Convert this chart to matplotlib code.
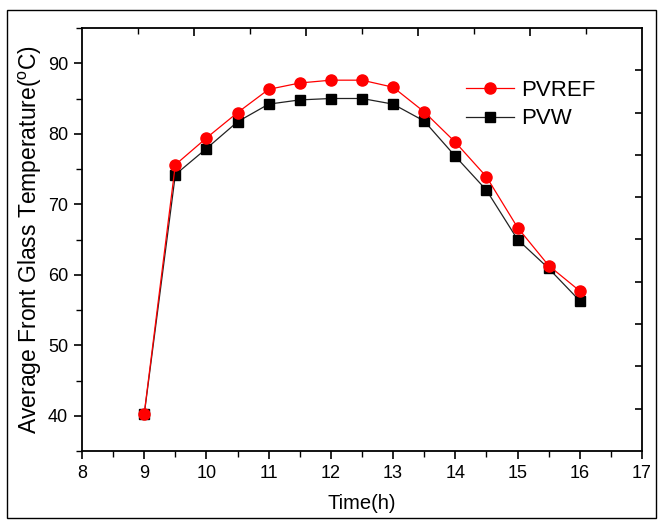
import matplotlib
matplotlib.use("Agg")
import matplotlib.pyplot as plt
from matplotlib.patches import Rectangle
from matplotlib.ticker import MultipleLocator

plt.rcParams['font.family'] = ['Liberation Sans', 'DejaVu Sans']
plt.rcParams['mathtext.fontset'] = 'custom'
plt.rcParams['mathtext.rm'] = 'Liberation Sans'

time_h = [9, 9.5, 10, 10.5, 11, 11.5, 12, 12.5, 13, 13.5, 14, 14.5, 15, 15.5, 16]
pvref = [40.3, 75.6, 79.4, 83.0, 86.3, 87.2, 87.6, 87.6, 86.6, 83.1, 78.8, 73.9, 66.7, 61.3, 57.7]
pvw = [40.2, 74.2, 77.9, 81.7, 84.2, 84.8, 85.0, 85.0, 84.2, 81.8, 76.8, 72.0, 65.0, 60.9, 56.3]

x_ticks = [8, 9, 10, 11, 12, 13, 14, 15, 16, 17]
y_ticks = [40, 50, 60, 70, 80, 90]

fig = plt.figure(figsize=(6.61, 5.24), dpi=100)
fig.patch.set_facecolor('white')
pos = [82/661, 1-451/524, (642-82)/661, (451-28)/524]
ax = fig.add_axes(pos)

ax.plot(time_h, pvref, color='red', lw=0.9, marker='o', markersize=8,
        markerfacecolor='red', markeredgecolor='red', label='PVREF', zorder=3)
ax.plot(time_h, pvw, color='#222222', lw=0.9, marker='s', markersize=6.5,
        markerfacecolor='black', markeredgecolor='black', label='PVW', zorder=2)

ax.set_xlim(8, 17)
ax.set_ylim(35, 95)
ax.set_xticks(x_ticks)
ax.set_yticks(y_ticks)
ax.xaxis.set_minor_locator(MultipleLocator(0.5))
ax.yaxis.set_minor_locator(MultipleLocator(5))
ax.tick_params(which='major', direction='out', length=6, width=1.2, labelsize=13, pad=4)
ax.tick_params(which='minor', direction='out', length=4, width=1.0)
for s in ax.spines.values():
    s.set_linewidth(1.3)

ax.set_xlabel('Time(h)', fontsize=14.5, labelpad=9)
ax.set_ylabel(r'Average Front Glass Temperature($^{\mathregular{o}}$C)', fontsize=16.5, labelpad=3)

leg = ax.legend(loc='upper left', bbox_to_anchor=(0.685, 0.878), frameon=False,
                fontsize=16, handlelength=2.2, handletextpad=0.3, labelspacing=0.35,
                borderpad=0, borderaxespad=0)

# opposite-axis ticks (inward)
axo = fig.add_axes(pos, frameon=False)
axo.set_xlim(0, 10)
axo.set_ylim(0, 10)
axo.patch.set_visible(False)
axo.xaxis.tick_top()
axo.yaxis.tick_right()
axo.set_xticks([2, 4, 6, 8])
axo.set_xticks([1, 3, 5, 7, 9], minor=True)
axo.set_yticks([1, 2, 3, 4, 5, 6, 7, 8, 9])
axo.tick_params(axis='x', which='major', direction='in', length=6, width=1.2, labeltop=False, labelbottom=False)
axo.tick_params(axis='x', which='minor', direction='in', length=4, width=1.0, labeltop=False)
axo.tick_params(axis='y', which='major', direction='in', length=5, width=1.2, labelright=False, labelleft=False)

fig.patches.append(Rectangle((7/661, 1-518/524), (656-7)/661, (518-10)/524,
                             transform=fig.transFigure, fill=False, edgecolor='black', lw=1.0))

fig.savefig('out.png', dpi=100)
